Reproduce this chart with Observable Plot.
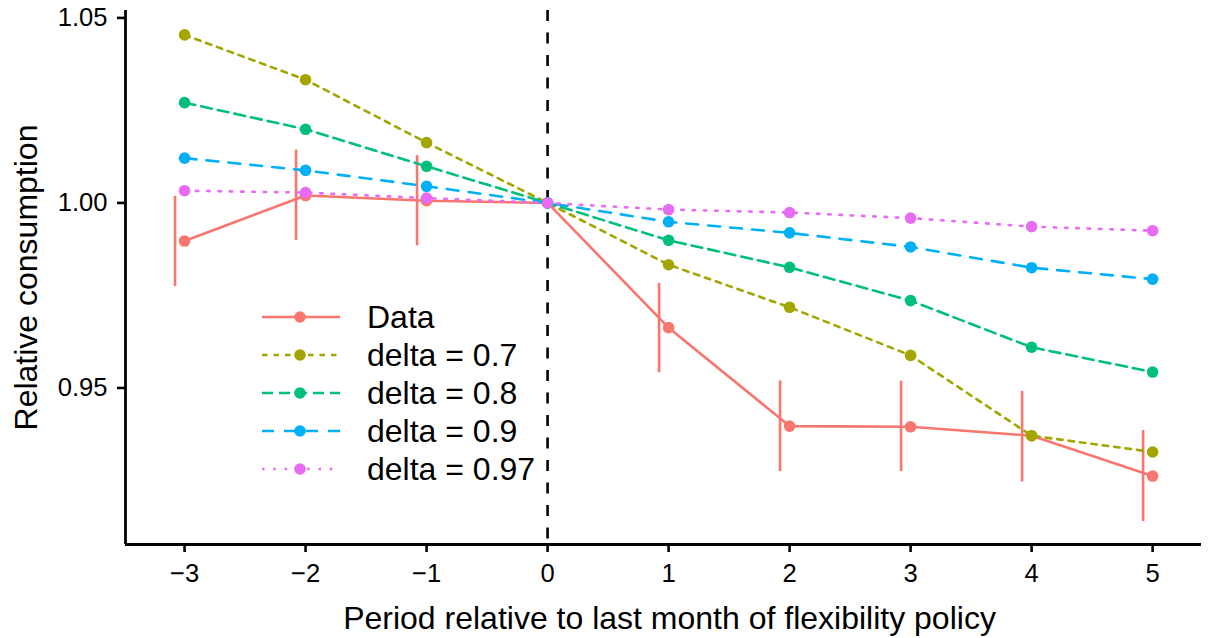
<!DOCTYPE html>
<html>
<head>
<meta charset="utf-8">
<script src="https://cdn.jsdelivr.net/npm/d3@7"></script>
<script src="https://cdn.jsdelivr.net/npm/@observablehq/plot@0.6"></script>
<style>
  html, body { margin: 0; padding: 0; background: #fff; }
  #wrap { position: relative; width: 1221px; height: 638px; font-family: "Liberation Sans", Arial, sans-serif; }
  #legend { position: absolute; left: 262px; top: 298px; }
  .row { display: flex; align-items: center; height: 38px; }
  .row span { margin-left: 27px; font-size: 32px; color: #000; line-height: 1; }
</style>
</head>
<body>
<div id="wrap"></div>
<script>
// ---- data ----
const periods = [-3, -2, -1, 0, 1, 2, 3, 4, 5];
const dataValues = [0.9897, 1.0020, 1.0006, 1.0000, 0.9663, 0.9397, 0.9395, 0.9371, 0.9262];
const dataLow    = [0.9774, 0.9899, 0.9884, null, 0.9541, 0.9274, 0.9274, 0.9246, 0.9139];
const dataHigh   = [1.0018, 1.0143, 1.0128, null, 0.9783, 0.9519, 0.9518, 0.9491, 0.9385];
const delta07  = [1.0454, 1.0333, 1.0163, 1.0000, 0.9833, 0.9718, 0.9588, 0.9371, 0.9327];
const delta08  = [1.0271, 1.0199, 1.0099, 1.0000, 0.9899, 0.9826, 0.9736, 0.9610, 0.9543];
const delta09  = [1.0121, 1.0088, 1.0045, 1.0000, 0.9949, 0.9919, 0.9881, 0.9825, 0.9794];
const delta097 = [1.0033, 1.0028, 1.0013, 1.0000, 0.9982, 0.9974, 0.9959, 0.9936, 0.9925];
const seriesNames = ["Data", "delta = 0.7", "delta = 0.8", "delta = 0.9", "delta = 0.97"];
const seriesValues = [dataValues, delta07, delta08, delta09, delta097];
const seriesColors = ["#F8766D", "#A3A500", "#00BF7D", "#00B0F6", "#E76BF3"];
const seriesDash = [null, "5.5,6", "11,6", "12,10", "2.5,8.8"];
const xTicks = [-3, -2, -1, 0, 1, 2, 3, 4, 5];
const yTicks = [0.95, 1.00, 1.05];
const xDomain = [-3.488, 5.404];
const yDomain = [0.9077, 1.052];
const xTitle = "Period relative to last month of flexibility policy";
const yTitle = "Relative consumption";

// ---- tables ----
const rows = [];
seriesNames.forEach((name, s) => {
  periods.forEach((p, i) => rows.push({series: name, s, x: p, y: seriesValues[s][i]}));
});
const errRows = periods.map((p, i) => ({x: p, lo: dataLow[i], hi: dataHigh[i]})).filter(d => d.lo != null);

const LW = 2.6;
const marks = [];
marks.push(Plot.ruleX([0], {stroke: "#000", strokeWidth: 2.6, strokeDasharray: "11,11.5"}));
marks.push(Plot.ruleX(errRows, {x: "x", y1: "lo", y2: "hi", stroke: seriesColors[0], strokeWidth: LW, dx: -9.5}));
seriesNames.forEach((name, s) => {
  marks.push(Plot.line(rows.filter(d => d.s === s), {
    x: "x", y: "y", stroke: seriesColors[s], strokeWidth: LW,
    strokeDasharray: seriesDash[s] || undefined
  }));
});
seriesNames.forEach((name, s) => {
  marks.push(Plot.dot(rows.filter(d => d.s === s), {x: "x", y: "y", r: 5.8, fill: seriesColors[s], stroke: "none"}));
});
marks.push(Plot.ruleX([xDomain[0]], {stroke: "#000", strokeWidth: 2.8}));
marks.push(Plot.ruleY([yDomain[0]], {stroke: "#000", strokeWidth: 2.8}));
marks.push(Plot.axisX({ticks: xTicks, tickSize: 8, tickPadding: 11, strokeWidth: 2.6, fontSize: 25.6, label: null, fill: "#000"}));
marks.push(Plot.axisY({ticks: yTicks, tickFormat: d3.format(".2f"), tickSize: 8, tickPadding: 10, strokeWidth: 2.6, fontSize: 25.6, label: null, fill: "#000"}));
marks.push(Plot.text([xTitle], {text: d => d, frameAnchor: "bottom", dx: 6, dy: 74, fontSize: 32, fill: "#000", textAnchor: "middle", lineAnchor: "middle"}));
marks.push(Plot.text([yTitle], {text: d => d, frameAnchor: "left", dx: -99, rotate: -90, fontSize: 32, fill: "#000", textAnchor: "middle", lineAnchor: "middle"}));

const chart = Plot.plot({
  width: 1221, height: 638,
  marginLeft: 125, marginRight: 20, marginTop: 10, marginBottom: 94,
  x: {domain: xDomain},
  y: {domain: yDomain},
  style: {fontFamily: "'Liberation Sans', Arial, sans-serif", background: "#fff", color: "#000", overflow: "visible"},
  marks
});
const wrap = document.getElementById("wrap");
wrap.appendChild(chart);

// ---- legend ----
const legend = document.createElement("div");
legend.id = "legend";
seriesNames.forEach((name, s) => {
  const row = document.createElement("div");
  row.className = "row";
  const ns = "http://www.w3.org/2000/svg";
  const sv = document.createElementNS(ns, "svg");
  sv.setAttribute("width", "78"); sv.setAttribute("height", "14");
  const ln = document.createElementNS(ns, "line");
  ln.setAttribute("x1", "0"); ln.setAttribute("x2", "78");
  ln.setAttribute("y1", "7"); ln.setAttribute("y2", "7");
  ln.setAttribute("stroke", seriesColors[s]); ln.setAttribute("stroke-width", String(LW));
  if (seriesDash[s]) ln.setAttribute("stroke-dasharray", seriesDash[s]);
  const c = document.createElementNS(ns, "circle");
  c.setAttribute("cx", "38"); c.setAttribute("cy", "7"); c.setAttribute("r", "5.8");
  c.setAttribute("fill", seriesColors[s]);
  sv.appendChild(ln); sv.appendChild(c);
  const t = document.createElement("span");
  t.textContent = name;
  row.appendChild(sv); row.appendChild(t);
  legend.appendChild(row);
});
wrap.appendChild(legend);
</script>
</body>
</html>
